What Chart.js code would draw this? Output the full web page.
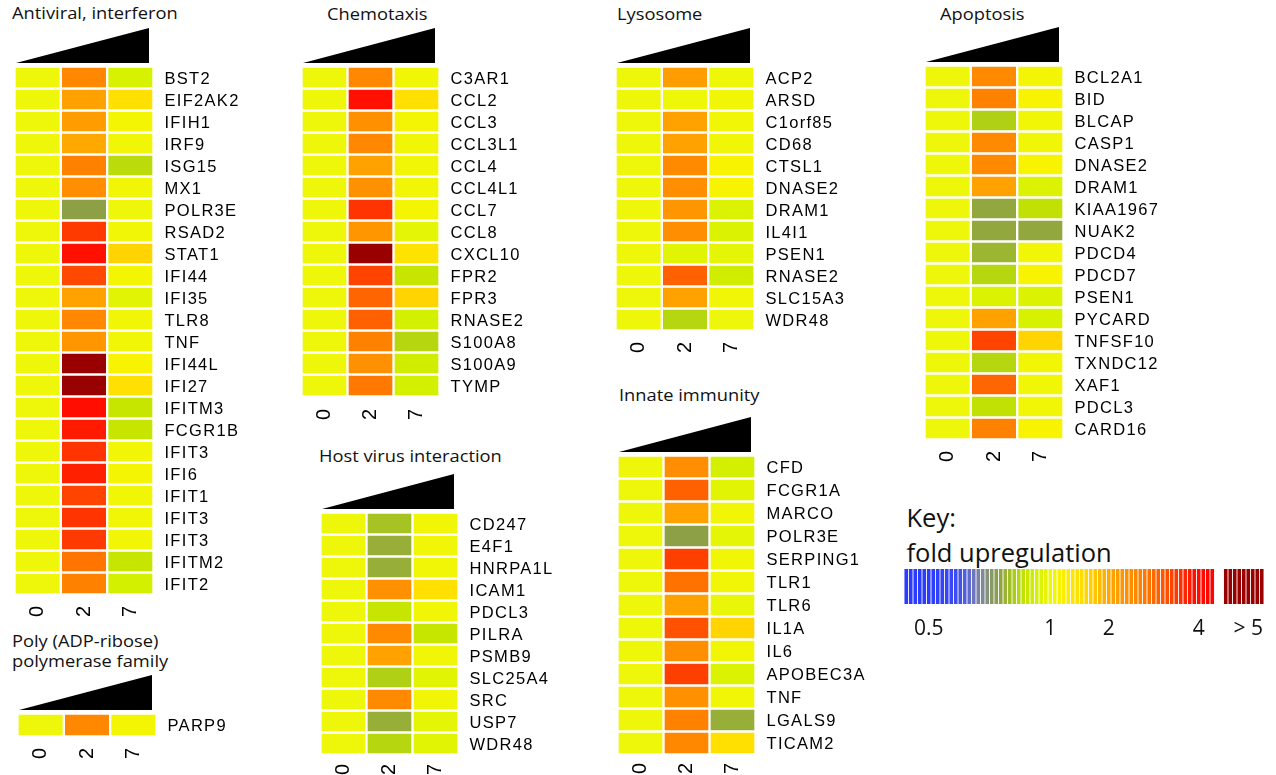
<!DOCTYPE html>
<html>
<head>
<meta charset="utf-8">
<script src="https://cdn.jsdelivr.net/npm/chart.js"></script>
<style>
  html, body { margin: 0; padding: 0; background: #fff; width: 1276px; height: 775px; overflow: hidden; position: relative; }
  canvas { position: absolute; }
  .title { position: absolute; font-family: 'Open Sans', sans-serif; font-size: 15.5px; line-height: 1; color: #111;
           white-space: nowrap; transform: scaleX(1.18); transform-origin: 0 0; }
  .key-head { position: absolute; font-family: 'Open Sans', sans-serif; font-size: 25.5px; line-height: 35.4px; color: #111; white-space: nowrap; }
</style>
</head>
<body>
<div class="title" style="left:12px; top:6px;">Antiviral, interferon</div>
<div class="title" style="left:11.7px; top:630.7px; line-height:20px;">Poly (ADP-ribose)<br>polymerase family</div>
<div class="title" style="left:326.7px; top:6.5px;">Chemotaxis</div>
<div class="title" style="left:319.3px; top:449px;">Host virus interaction</div>
<div class="title" style="left:616.7px; top:6.5px;">Lysosome</div>
<div class="title" style="left:619px; top:388px;">Innate immunity</div>
<div class="title" style="left:940px; top:6.5px;">Apoptosis</div>
<div class="key-head" style="left:906.5px; top:499.7px;">Key:<br>fold upregulation</div>

<script>
// Sampling days (columns of every heatmap)
const dayLabels = ['0', '2', '7'];

// Fold upregulation per gene, one array per sampling day
const antiviralGenes = ['BST2', 'EIF2AK2', 'IFIH1', 'IRF9', 'ISG15', 'MX1', 'POLR3E', 'RSAD2', 'STAT1', 'IFI44', 'IFI35', 'TLR8',
  'TNF', 'IFI44L', 'IFI27', 'IFITM3', 'FCGR1B', 'IFIT3', 'IFI6', 'IFIT1', 'IFIT3', 'IFIT3', 'IFITM2', 'IFIT2'];
const antiviralDay0 = [1, 1, 1, 1, 1, 1, 1, 1, 1, 1, 1, 1, 1, 1, 1, 1, 1, 1, 1, 1, 1, 1, 1, 1];
const antiviralDay2 = [2.6, 2.1, 2.2, 2.0, 2.7, 2.45, 0.79, 3.5, 3.9, 3.35, 2.1, 2.6, 2.3, 5.0, 5.0, 3.95, 3.8, 3.55, 3.75, 3.4, 3.55, 3.5, 2.85, 2.7];
const antiviralDay7 = [0.95, 1.5, 1.1, 1.05, 0.88, 1.05, 1.0, 1.05, 1.65, 1.1, 0.97, 1.05, 1.05, 1.15, 1.5, 0.9, 0.9, 1.05, 1.1, 1.05, 1.05, 1.05, 0.9, 0.94];

const parpGenes = ['PARP9'];
const parpDay0 = [1];
const parpDay2 = [2.6];
const parpDay7 = [1.1];

const chemotaxisGenes = ['C3AR1', 'CCL2', 'CCL3', 'CCL3L1', 'CCL4', 'CCL4L1', 'CCL7', 'CCL8', 'CXCL10', 'FPR2', 'FPR3', 'RNASE2', 'S100A8', 'S100A9', 'TYMP'];
const chemotaxisDay0 = [1, 1, 1, 1, 1, 1, 1, 1, 1, 1, 1, 1, 1, 1, 1];
const chemotaxisDay2 = [2.6, 3.9, 2.4, 2.6, 2.1, 2.4, 3.55, 2.3, 5.0, 3.4, 3.05, 3.1, 2.7, 2.4, 2.8];
const chemotaxisDay7 = [1.05, 1.5, 1.08, 1.05, 1.05, 1.05, 1.1, 0.98, 1.45, 0.9, 1.65, 0.94, 0.87, 0.93, 0.94];

const hostVirusGenes = ['CD247', 'E4F1', 'HNRPA1L', 'ICAM1', 'PDCL3', 'PILRA', 'PSMB9', 'SLC25A4', 'SRC', 'USP7', 'WDR48'];
const hostVirusDay0 = [1, 1, 1, 1, 1, 1, 1, 1, 1, 1, 1];
const hostVirusDay2 = [0.84, 0.81, 0.81, 2.4, 0.9, 2.55, 2.1, 0.86, 2.55, 0.81, 0.87];
const hostVirusDay7 = [1.05, 1.05, 1.05, 1.5, 1.05, 0.9, 1.05, 0.97, 1.05, 0.98, 0.97];

const lysosomeGenes = ['ACP2', 'ARSD', 'C1orf85', 'CD68', 'CTSL1', 'DNASE2', 'DRAM1', 'IL4I1', 'PSEN1', 'RNASE2', 'SLC15A3', 'WDR48'];
const lysosomeDay0 = [1, 1, 1, 1, 1, 1, 1, 1, 1, 1, 1, 1];
const lysosomeDay2 = [2.2, 1.02, 2.1, 2.1, 2.55, 2.45, 2.3, 2.45, 0.97, 3.1, 2.1, 0.87];
const lysosomeDay7 = [1.02, 1.05, 1.05, 1.05, 1.15, 1.15, 0.96, 0.96, 0.98, 0.93, 1.05, 1.0];

const innateGenes = ['CFD', 'FCGR1A', 'MARCO', 'POLR3E', 'SERPING1', 'TLR1', 'TLR6', 'IL1A', 'IL6', 'APOBEC3A', 'TNF', 'LGALS9', 'TICAM2'];
const innateDay0 = [1, 1, 1, 1, 1, 1, 1, 1, 1, 1, 1, 1, 1];
const innateDay2 = [2.45, 3.1, 2.1, 0.79, 3.45, 2.9, 2.1, 3.25, 2.45, 3.45, 2.4, 2.7, 2.6];
const innateDay7 = [0.94, 0.97, 1.05, 0.98, 1.05, 1.05, 0.99, 1.65, 1.05, 0.96, 1.05, 0.81, 1.5];

const apoptosisGenes = ['BCL2A1', 'BID', 'BLCAP', 'CASP1', 'DNASE2', 'DRAM1', 'KIAA1967', 'NUAK2', 'PDCD4', 'PDCD7', 'PSEN1', 'PYCARD',
  'TNFSF10', 'TXNDC12', 'XAF1', 'PDCL3', 'CARD16'];
const apoptosisDay0 = [1, 1, 1, 1, 1, 1, 1, 1, 1, 1, 1, 1, 1, 1, 1, 1, 1];
const apoptosisDay2 = [2.55, 2.7, 0.86, 2.55, 2.55, 2.1, 0.8, 0.8, 0.82, 0.87, 0.96, 2.1, 3.4, 0.87, 3.05, 0.89, 2.7];
const apoptosisDay7 = [1.08, 1.15, 1.05, 1.05, 1.15, 0.96, 0.89, 0.8, 1.05, 1.15, 0.96, 0.95, 1.65, 1.05, 1.05, 1.05, 1.15];

// Colour key: tick labels and the stripe each one sits under
const keyTickLabels = ['0.5', '1', '2', '4', '> 5'];
const keyTickStripes = [5, 32, 45, 65, 76];

// Fold value -> colour ramp (blue = down, yellow = unchanged, red = up)
const foldStops = [
  [0.5, '#2b3bff'], [0.62, '#3d4cf2'], [0.70, '#7880b0'], [0.76, '#8a9a66'], [0.79, '#8ea046'],
  [0.82, '#9cb632'], [0.86, '#b0d015'], [0.90, '#c6e600'], [0.95, '#d6f200'], [1.0, '#eef70a'],
  [1.1, '#f4f502'], [1.2, '#faf000'], [1.5, '#ffe000'], [1.65, '#ffd400'], [2.0, '#ffa800'],
  [2.3, '#ff9600'], [2.6, '#ff8800'], [3.0, '#ff6a00'], [3.4, '#ff4400'], [3.9, '#ff1000'],
  [4.4, '#ff0000'], [4.8, '#990000']
];

function hexRgb(h) {
  return [parseInt(h.slice(1, 3), 16), parseInt(h.slice(3, 5), 16), parseInt(h.slice(5, 7), 16)];
}

function foldColor(v) {
  if (v <= foldStops[0][0]) return foldStops[0][1];
  for (let i = 1; i < foldStops.length; i++) {
    const [v1, c1] = foldStops[i];
    if (v <= v1) {
      const [v0, c0] = foldStops[i - 1];
      const t = (v - v0) / (v1 - v0);
      const a = hexRgb(c0), b = hexRgb(c1);
      const m = a.map((x, k) => Math.round(x + (b[k] - x) * t));
      return 'rgb(' + m.join(',') + ')';
    }
  }
  return foldStops[foldStops.length - 1][1];
}

// Black dose wedge above each heatmap
const wedgePlugin = {
  id: 'doseWedge',
  beforeDraw(chart) {
    const a = chart.chartArea;
    const ctx = chart.ctx;
    const base = a.top - 3.5, tip = base - 35;
    ctx.save();
    ctx.fillStyle = '#000';
    ctx.beginPath();
    ctx.moveTo(a.left + 1.5, base);
    ctx.lineTo(a.right - 4.5, base);
    ctx.lineTo(a.right - 4.5, tip);
    ctx.closePath();
    ctx.fill();
    ctx.restore();
  }
};

// Slightly wider gene lettering
const spacingPlugin = {
  id: 'labelSpacing',
  beforeDraw(chart) { chart.ctx.letterSpacing = '1.3px'; },
  afterDraw(chart) { chart.ctx.letterSpacing = '0px'; }
};

function heatmapPanel(p) {
  const canvas = document.createElement('canvas');
  const cLeft = Math.floor(p.areaLeft - 10);
  const cTop = Math.floor(p.areaTop - 45);
  const padL = p.areaLeft - cLeft;
  const padT = p.areaTop - cTop;
  const n = p.genes.length;
  const w = Math.ceil(padL + 3 * p.colPitch + 125);
  const h = Math.ceil(padT + n * p.rowPitch + 32);
  const geneW = w - padL - 3 * p.colPitch;
  const dayH = h - padT - n * p.rowPitch;
  canvas.width = w;
  canvas.height = h;
  canvas.style.left = cLeft + 'px';
  canvas.style.top = cTop + 'px';
  document.body.appendChild(canvas);

  new Chart(canvas, {
    type: 'bar',
    data: {
      labels: p.genes,
      datasets: p.days.map((vals, i) => ({
        label: 'Day ' + dayLabels[i],
        data: vals.map(() => 1),
        fold: vals,
        backgroundColor: c => foldColor(c.dataset.fold[c.dataIndex]),
        borderColor: '#ffffff',
        borderWidth: 1.5,
        borderSkipped: false,
        barPercentage: 1,
        categoryPercentage: 1
      }))
    },
    options: {
      indexAxis: 'y',
      responsive: false,
      animation: false,
      devicePixelRatio: 1,
      layout: { padding: { left: padL, top: padT, right: 0, bottom: 0 } },
      plugins: {
        legend: { display: false },
        tooltip: { callbacks: { label: c => c.dataset.label + ': ' + c.dataset.fold[c.dataIndex] + '-fold' } }
      },
      scales: {
        x: { type: 'linear', stacked: true, min: 0, max: 3, display: false },
        y: {
          type: 'category', position: 'right', stacked: true, offset: true,
          grid: { display: false, drawTicks: false }, border: { display: false },
          ticks: { autoSkip: false, padding: 11, labelOffset: 1.5, color: '#000', font: { family: 'Liberation Sans', size: 16.5 } },
          afterFit: s => { s.width = geneW; }
        },
        days: {
          type: 'category', labels: dayLabels, position: 'bottom', offset: true,
          grid: { display: false, drawTicks: false }, border: { display: false },
          ticks: { autoSkip: false, minRotation: 90, maxRotation: 90, padding: p.dayPad, color: '#000',
                   font: { family: 'Liberation Sans', size: 20 } },
          afterFit: s => { s.height = dayH; }
        }
      }
    },
    plugins: [wedgePlugin, spacingPlugin]
  });
}

heatmapPanel({ genes: antiviralGenes, days: [antiviralDay0, antiviralDay2, antiviralDay7], areaLeft: 14.5, areaTop: 66.5, colPitch: 46.33, rowPitch: 22, dayPad: 10 });
heatmapPanel({ genes: parpGenes, days: [parpDay0, parpDay2, parpDay7], areaLeft: 17.5, areaTop: 713.5, colPitch: 46.33, rowPitch: 23, dayPad: 10 });
heatmapPanel({ genes: chemotaxisGenes, days: [chemotaxisDay0, chemotaxisDay2, chemotaxisDay7], areaLeft: 301.5, areaTop: 66.5, colPitch: 46, rowPitch: 22, dayPad: 11 });
heatmapPanel({ genes: hostVirusGenes, days: [hostVirusDay0, hostVirusDay2, hostVirusDay7], areaLeft: 320.5, areaTop: 512.5, colPitch: 46, rowPitch: 22, dayPad: 8 });
heatmapPanel({ genes: lysosomeGenes, days: [lysosomeDay0, lysosomeDay2, lysosomeDay7], areaLeft: 615.5, areaTop: 66.5, colPitch: 46.33, rowPitch: 22, dayPad: 10 });
heatmapPanel({ genes: innateGenes, days: [innateDay0, innateDay2, innateDay7], areaLeft: 617.5, areaTop: 455.5, colPitch: 46, rowPitch: 23, dayPad: 7 });
heatmapPanel({ genes: apoptosisGenes, days: [apoptosisDay0, apoptosisDay2, apoptosisDay7], areaLeft: 924.5, areaTop: 65.5, colPitch: 46.33, rowPitch: 22, dayPad: 10 });

// Colour key: a striped bar of the fold ramp, then a separate block for > 5
(function drawKey() {
  const stripeCount = 80;
  const anchors = [[0, 0.5], [5, 0.5], [32, 1], [45, 2], [65, 4], [68, 4.3]];
  const stripeFold = [];
  for (let i = 0; i < stripeCount; i++) {
    if (i <= 68) {
      let v = 4.3;
      for (let k = 1; k < anchors.length; k++) {
        if (i <= anchors[k][0]) {
          const [i0, v0] = anchors[k - 1], [i1, v1] = anchors[k];
          v = v0 + (v1 - v0) * (i - i0) / (i1 - i0);
          break;
        }
      }
      stripeFold.push(v);
    } else if (i <= 70) {
      stripeFold.push(null);
    } else {
      stripeFold.push(5);
    }
  }
  const stripeLabels = stripeFold.map((_, i) => {
    const k = keyTickStripes.indexOf(i);
    return k >= 0 ? keyTickLabels[k] : '';
  });

  const canvas = document.createElement('canvas');
  canvas.width = 386;
  canvas.height = 90;
  canvas.style.left = '890px';
  canvas.style.top = '559px';
  document.body.appendChild(canvas);

  new Chart(canvas, {
    type: 'bar',
    data: {
      labels: stripeLabels,
      datasets: [{
        label: 'fold upregulation',
        data: stripeFold.map(v => (v === null ? null : 1)),
        fold: stripeFold,
        backgroundColor: c => foldColor(c.dataset.fold[c.dataIndex] ?? 1),
        borderWidth: 0,
        barPercentage: 0.8,
        categoryPercentage: 1
      }]
    },
    options: {
      responsive: false,
      animation: false,
      devicePixelRatio: 1,
      layout: { padding: { left: 14, top: 10, right: 12, bottom: 0 } },
      plugins: { legend: { display: false }, tooltip: { enabled: false } },
      scales: {
        y: { type: 'linear', min: 0, max: 1, display: false },
        x: {
          type: 'category', offset: true,
          grid: { display: false, drawTicks: false }, border: { display: false },
          ticks: { autoSkip: false, minRotation: 0, maxRotation: 0, padding: 12, color: '#111',
                   font: { family: 'Open Sans', size: 21 } },
          afterFit: s => { s.height = 45; }
        }
      }
    }
  });
})();
</script>
</body>
</html>
